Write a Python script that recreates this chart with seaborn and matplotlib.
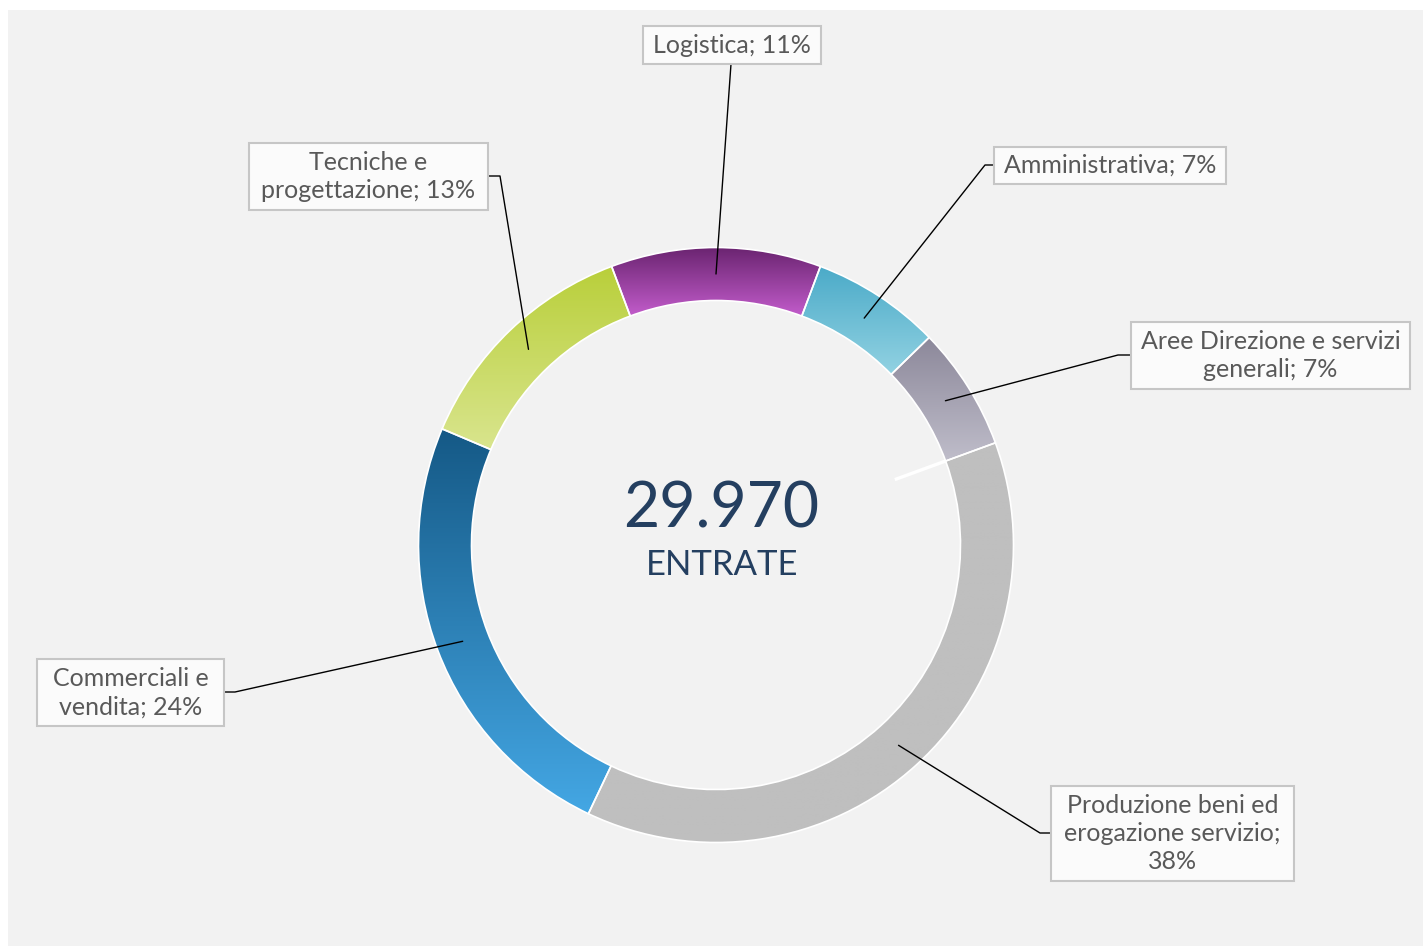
import numpy as np
import matplotlib
matplotlib.use("Agg")
import matplotlib.pyplot as plt
import seaborn as sns
from matplotlib.patches import Rectangle
from matplotlib.colors import to_rgb

# ---------------- data ----------------
categories = ["Logistica", "Amministrativa", "Aree Direzione e servizi generali",
              "Produzione beni ed erogazione servizio", "Commerciali e vendita",
              "Tecniche e progettazione"]
label_templates = ["Logistica; {p}%", "Amministrativa; {p}%",
                   "Aree Direzione e servizi\ngenerali; {p}%",
                   "Produzione beni ed\nerogazione servizio;\n{p}%",
                   "Commerciali e\nvendita; {p}%",
                   "Tecniche e\nprogettazione; {p}%"]
shares = [11.4, 7.0, 6.7, 37.6, 24.3, 12.9]
total_value = "29.970"
center_caption = "ENTRATE"

# ---------------- styles ----------------
grad_top = ["#6a2470", "#4aaac8", "#8c889a", "#bfbfbf", "#155986", "#b9cf3a"]
grad_bot = ["#c25ccb", "#92d2e2", "#bfbdca", "#bfbfbf", "#44a7e4", "#d9e58e"]

sns.set_theme(style="white")
plt.rcParams["font.family"] = ["Lato", "DejaVu Sans"]

W, H = 1423, 946
CX, CY, RPX = 716, 545, 297.5
RING = 53 / RPX


def px(x, y):
    return ((x - CX) / RPX, (CY - y) / RPX)


# layout of label boxes in pixels: (x0, y0, x1, y1), and leader line pixel points after the start
boxes = [(643, 26, 821, 64), (994, 147, 1226, 184), (1131, 322, 1410, 389),
         (1051, 786, 1294, 881), (37, 659, 224, 726), (249, 143, 488, 210)]
leader_tail = [[(731, 64)],
               [(985, 165), (994, 165)],
               [(1118, 355), (1131, 355)],
               [(1040, 833), (1051, 833)],
               [(235, 692), (224, 692)],
               [(500, 176), (488, 176)]]

fig = plt.figure(figsize=(W / 100, H / 100), dpi=100, facecolor="white")
fig.patches.append(Rectangle((8 / W, 0), 1 - 8 / W, 1 - 10 / H,
                             transform=fig.transFigure, facecolor="#f2f2f2",
                             edgecolor="none", zorder=-5))
ax = fig.add_axes([0, 0, 1, 1])
ax.set_facecolor("none")
ax.patch.set_alpha(0)

total = sum(shares)
start = 90 + shares[0] / total * 360 / 2
wedges, _ = ax.pie(shares, startangle=start, counterclock=False, radius=1,
                   wedgeprops=dict(width=RING, edgecolor="white", linewidth=1.2))

# gradient fills clipped to each wedge (vertical, top -> bottom of the segment)
for w, ct, cb in zip(wedges, grad_top, grad_bot):
    th = np.deg2rad(np.linspace(w.theta1, w.theta2, 200))
    xs = np.concatenate([np.cos(th), (1 - RING) * np.cos(th)])
    ys = np.concatenate([np.sin(th), (1 - RING) * np.sin(th)])
    x0, x1, y0, y1 = xs.min(), xs.max(), ys.min(), ys.max()
    t = np.linspace(0, 1, 256)[:, None]
    grad = (1 - t) * np.array(to_rgb(ct)) + t * np.array(to_rgb(cb))
    img = ax.imshow(grad[:, None, :], extent=[x0, x1, y0, y1], origin="upper",
                    aspect="auto", interpolation="bilinear", zorder=1)
    img.set_clip_path(w)
    w.set_facecolor("none")
    w.set_zorder(2)

# small white artefact line at the Aree/Produzione boundary inside the hole
cum = np.cumsum(shares)
b_ang = np.deg2rad(start - cum[2] / total * 360)
rr = np.array([0.64, 1 - RING])
ax.plot(rr * np.cos(b_ang), rr * np.sin(b_ang), color="white", lw=2.4,
        solid_capstyle="butt", zorder=3)

# labels and leader lines
rmid = 1 - RING / 2
for i, (w, tmpl, box, tail) in enumerate(zip(wedges, label_templates, boxes, leader_tail)):
    mid = np.deg2rad((w.theta1 + w.theta2) / 2)
    pts = [(rmid * np.cos(mid), rmid * np.sin(mid))] + [px(*p) for p in tail]
    lx, ly = zip(*pts)
    ax.plot(lx, ly, color="black", lw=1.0, zorder=4)
    bx0, by0 = px(box[0], box[3])
    bx1, by1 = px(box[2], box[1])
    ax.add_patch(Rectangle((bx0, by0), bx1 - bx0, by1 - by0, facecolor="#fbfbfb",
                           edgecolor="#c6c6c6", lw=1.5, zorder=5))
    pct = round(shares[i] / total * 100)
    ax.text((bx0 + bx1) / 2, (by0 + by1) / 2, tmpl.format(p=pct), ha="center",
            va="center", fontsize=18, color="#595959", linespacing=1.28, zorder=6)

# center text
ax.text(*px(721, 509), total_value, ha="center", va="center", fontsize=45,
        color="#243f60")
ax.text(*px(722, 565), center_caption, ha="center", va="center", fontsize=25,
        color="#243f60")

ax.set_xlim(-CX / RPX, (W - CX) / RPX)
ax.set_ylim(-(H - CY) / RPX, CY / RPX)
ax.set_aspect("auto")
ax.axis("off")

fig.savefig("out.png", dpi=100, facecolor="white")
